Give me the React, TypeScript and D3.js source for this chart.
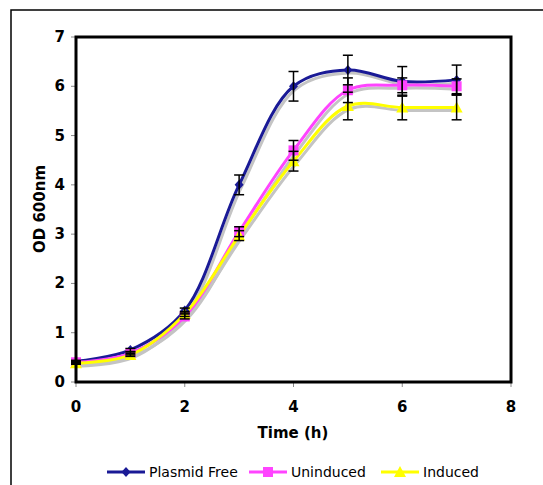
import React from "react";
import * as d3 from "d3";

const times = [0, 1, 2, 3, 4, 5, 6, 7];
const plasmidFree = [0.42, 0.65, 1.45, 4.0, 6.0, 6.33, 6.1, 6.13];
const plasmidErr = [0.02, 0.03, 0.05, 0.2, 0.3, 0.3, 0.3, 0.3];
const uninduced = [0.4, 0.58, 1.33, 3.05, 4.7, 5.92, 6.02, 6.0];
const uninducedErr = [0.02, 0.03, 0.05, 0.1, 0.2, 0.25, 0.15, 0.15];
const induced = [0.38, 0.55, 1.38, 2.97, 4.48, 5.6, 5.57, 5.57];
const inducedErr = [0.02, 0.03, 0.05, 0.1, 0.2, 0.28, 0.25, 0.25];
const xTicks = [0, 2, 4, 6, 8];
const yTicks = [0, 1, 2, 3, 4, 5, 6, 7];

const series = [
  { name: "Plasmid Free", values: plasmidFree, err: plasmidErr, color: "#1a1a96", marker: "diamond" },
  { name: "Uninduced", values: uninduced, err: uninducedErr, color: "#ff44ff", marker: "square" },
  { name: "Induced", values: induced, err: inducedErr, color: "#ffff00", marker: "triangle" },
];

const font = "Verdana, 'DejaVu Sans', sans-serif";

export default function App() {
  const left = 76, right = 511, top = 37, bottom = 382;
  const x = d3.scaleLinear().domain([0, 8]).range([left, right]);
  const y = d3.scaleLinear().domain([0, 7]).range([bottom, top]);
  const line = d3
    .line<number>()
    .x((_, i) => x(times[i]))
    .y((d) => y(d))
    .curve(d3.curveCatmullRom.alpha(0.5));

  const markerPath = (type: string, cx: number, cy: number) => {
    if (type === "diamond") return `M${cx},${cy - 5}L${cx + 4.5},${cy}L${cx},${cy + 5}L${cx - 4.5},${cy}Z`;
    if (type === "square") return `M${cx - 5},${cy - 5}h10v10h-10Z`;
    return `M${cx},${cy - 6}L${cx + 6},${cy + 5}L${cx - 6},${cy + 5}Z`;
  };

  const legend = [
    { x0: 107, label: "Plasmid Free" },
    { x0: 249, label: "Uninduced" },
    { x0: 381, label: "Induced" },
  ];

  return (
    <svg width={543} height={485} style={{ position: "absolute", left: 0, top: 0, background: "#fff" }}>
      <rect x={11} y={10} width={700} height={600} fill="#fff" stroke="#000" strokeWidth={1.5} />
      {yTicks.map((t) => (
        <g key={"y" + t}>
          <line x1={left - 5} x2={left} y1={y(t)} y2={y(t)} stroke="#888" strokeWidth={1} />
          <text x={65} y={y(t) + 5} textAnchor="end" fontFamily={font} fontWeight="bold" fontSize={15}>
            {t}
          </text>
        </g>
      ))}
      {xTicks.map((t) => (
        <g key={"x" + t}>
          <line x1={x(t)} x2={x(t)} y1={bottom} y2={bottom + 5} stroke="#888" strokeWidth={1} />
          <text x={x(t)} y={412} textAnchor="middle" fontFamily={font} fontWeight="bold" fontSize={15}>
            {t}
          </text>
        </g>
      ))}
      <text x={293} y={438} textAnchor="middle" fontFamily={font} fontWeight="bold" fontSize={15}>
        Time (h)
      </text>
      <text
        transform={`translate(45,209) rotate(-90)`}
        textAnchor="middle"
        fontFamily={font}
        fontWeight="bold"
        fontSize={15}
      >
        OD 600nm
      </text>
      {series.map((s) => (
        <path key={"sh" + s.name} d={line(s.values) || ""} transform="translate(2,3)" fill="none" stroke="#c4c4c4" strokeWidth={3} />
      ))}
      {series.map((s) => (
        <path key={"l" + s.name} d={line(s.values) || ""} fill="none" stroke={s.color} strokeWidth={3} />
      ))}
      {series.map((s) =>
        s.values.map((v, i) => (
          <path key={s.name + i} d={markerPath(s.marker, x(times[i]), y(v))} fill={s.color} />
        ))
      )}
      {series.map((s) =>
        s.values.map((v, i) => {
          const cx = x(times[i]);
          const y1 = y(v + s.err[i]);
          const y2 = y(v - s.err[i]);
          return (
            <g key={"e" + s.name + i} stroke="#000" strokeWidth={1.5}>
              <line x1={cx} x2={cx} y1={y1} y2={y2} />
              <line x1={cx - 5} x2={cx + 5} y1={y1} y2={y1} />
              <line x1={cx - 5} x2={cx + 5} y1={y2} y2={y2} />
            </g>
          );
        })
      )}
      <rect x={left} y={top} width={right - left} height={bottom - top} fill="none" stroke="#000" strokeWidth={3} />
      {series.map((s, i) => {
        const lx = legend[i].x0;
        const ly = 472;
        return (
          <g key={"lg" + s.name}>
            <line x1={lx} x2={lx + 38} y1={ly} y2={ly} stroke={s.color} strokeWidth={3} />
            <path d={markerPath(s.marker, lx + 19, ly)} fill={s.color} />
            <text x={lx + 42} y={ly + 5} fontFamily={font} fontSize={14}>
              {legend[i].label}
            </text>
          </g>
        );
      })}
    </svg>
  );
}
